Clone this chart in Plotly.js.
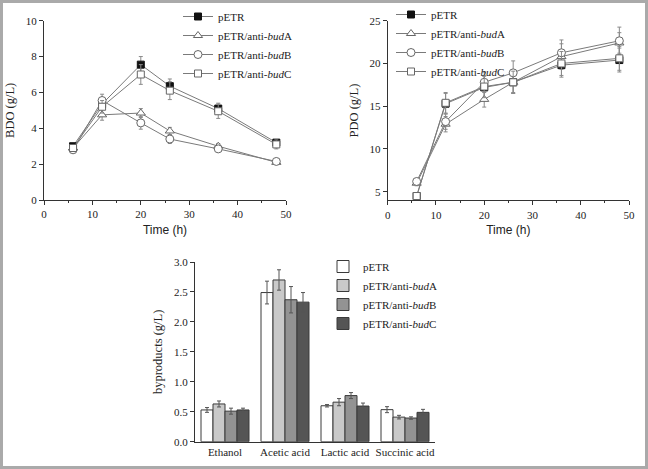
<!DOCTYPE html>
<html>
<head>
<meta charset="utf-8">
<script src="https://cdn.plot.ly/plotly-3.0.1.min.js"></script>
<style>
html,body{margin:0;padding:0;background:#fff;}
#wrap{position:relative;width:648px;height:469px;}
#chart{width:648px;height:469px;}
#frame{position:absolute;left:0;top:0;width:648px;height:469px;box-sizing:border-box;border:3px solid #aaaaaa;pointer-events:none;}
</style>
</head>
<body>
<div id="wrap"><div id="chart"></div><div id="frame"></div></div>
<script>
// ---- data ----
const timeH = [6, 12, 20, 26, 36, 48];
const seriesNames = ['pETR', 'pETR/anti-<i>bud</i>A', 'pETR/anti-<i>bud</i>B', 'pETR/anti-<i>bud</i>C'];

const bdo_pETR = [3.0, 5.35, 7.55, 6.35, 5.1, 3.2];
const bdo_budA = [2.9, 4.75, 4.85, 3.85, 3.0, 2.1];
const bdo_budB = [2.8, 5.55, 4.3, 3.4, 2.85, 2.15];
const bdo_budC = [2.9, 5.2, 7.0, 6.1, 4.95, 3.1];
const bdoErr_pETR = [0.15, 0.3, 0.45, 0.4, 0.3, 0.15];
const bdoErr_budA = [0.1, 0.3, 0.25, 0.2, 0.15, 0.1];
const bdoErr_budB = [0.1, 0.35, 0.35, 0.25, 0.15, 0.1];
const bdoErr_budC = [0.15, 0.35, 0.55, 0.5, 0.4, 0.25];

const pdo_pETR = [4.5, 15.3, 17.2, 17.8, 19.8, 20.4];
const pdo_budA = [6.0, 12.9, 15.8, 17.8, 20.8, 22.4];
const pdo_budB = [6.2, 13.2, 17.8, 18.9, 21.25, 22.65];
const pdo_budC = [4.5, 15.4, 17.3, 17.8, 20.0, 20.6];
const pdoErr_pETR = [0.3, 1.2, 1.3, 1.3, 1.4, 1.4];
const pdoErr_budA = [0.3, 0.9, 0.9, 1.2, 1.5, 1.2];
const pdoErr_budB = [0.3, 0.9, 1.2, 1.4, 1.5, 1.6];
const pdoErr_budC = [0.3, 1.2, 1.3, 1.3, 1.4, 1.4];

const byCategories = ['Ethanol', 'Acetic acid', 'Lactic acid', 'Succinic acid'];
const by_pETR = [0.53, 2.49, 0.60, 0.535];
const by_budA = [0.63, 2.70, 0.66, 0.41];
const by_budB = [0.51, 2.37, 0.77, 0.395];
const by_budC = [0.53, 2.33, 0.595, 0.49];
const byErr_pETR = [0.04, 0.19, 0.02, 0.05];
const byErr_budA = [0.05, 0.17, 0.06, 0.03];
const byErr_budB = [0.05, 0.22, 0.05, 0.02];
const byErr_budC = [0.03, 0.16, 0.05, 0.05];

// ---- styles ----
const SERIF = 'Liberation Serif, Times New Roman, serif';
const SANS = 'Liberation Sans, Arial, sans-serif';
const lineCol = '#7a7a7a';
const errCol = '#8a8a8a';
const markerStyles = [
  {symbol: 'square', color: '#111111', size: 7, line: {color: '#111111', width: 1}},
  {symbol: 'triangle-up', color: '#ffffff', size: 8, line: {color: '#666666', width: 1}},
  {symbol: 'circle', color: '#ffffff', size: 8, line: {color: '#666666', width: 1}},
  {symbol: 'square', color: '#ffffff', size: 7, line: {color: '#666666', width: 1}}
];

function lineTrace(y, err, i, xa, ya, legendId) {
  return {
    type: 'scatter', mode: 'lines+markers',
    x: timeH, y: y, name: seriesNames[i],
    xaxis: xa, yaxis: ya, legend: legendId,
    line: {color: lineCol, width: 1},
    marker: markerStyles[i],
    error_y: {type: 'data', array: err, visible: true, color: errCol, thickness: 1, width: 2}
  };
}

const barColors = ['#ffffff', '#c9c9c9', '#939393', '#555555'];
function barTrace(y, err, i) {
  return {
    type: 'bar', x: byCategories, y: y, name: seriesNames[i],
    xaxis: 'x3', yaxis: 'y3', legend: 'legend3',
    marker: {color: barColors[i], line: {color: '#3a3a3a', width: 1}},
    error_y: {type: 'data', array: err, visible: true, color: '#555555', thickness: 1, width: 2}
  };
}

const data = [
  lineTrace(bdo_pETR, bdoErr_pETR, 0, 'x', 'y', 'legend'),
  lineTrace(bdo_budA, bdoErr_budA, 1, 'x', 'y', 'legend'),
  lineTrace(bdo_budB, bdoErr_budB, 2, 'x', 'y', 'legend'),
  lineTrace(bdo_budC, bdoErr_budC, 3, 'x', 'y', 'legend'),
  lineTrace(pdo_pETR, pdoErr_pETR, 0, 'x2', 'y2', 'legend2'),
  lineTrace(pdo_budA, pdoErr_budA, 1, 'x2', 'y2', 'legend2'),
  lineTrace(pdo_budB, pdoErr_budB, 2, 'x2', 'y2', 'legend2'),
  lineTrace(pdo_budC, pdoErr_budC, 3, 'x2', 'y2', 'legend2'),
  barTrace(by_pETR, byErr_pETR, 0),
  barTrace(by_budA, byErr_budA, 1),
  barTrace(by_budB, byErr_budB, 2),
  barTrace(by_budC, byErr_budC, 3)
];

const tickFont = {family: SERIF, size: 11, color: '#222'};
function baseAxis(extra) {
  return Object.assign({
    showline: true, linecolor: '#333', linewidth: 1,
    ticks: 'outside', ticklen: 4, tickcolor: '#333', tickwidth: 1,
    showgrid: false, zeroline: false, mirror: false,
    tickfont: tickFont, fixedrange: true
  }, extra);
}

const W = 648, H = 469;
const px = v => v / W;
const py = v => 1 - v / H;

const legendFont = {family: SERIF, size: 11, color: '#222'};

const layout = {
  width: W, height: H,
  margin: {l: 0, r: 0, t: 0, b: 0},
  paper_bgcolor: '#ffffff', plot_bgcolor: '#ffffff',
  showlegend: true,
  barmode: 'group', bargap: 0.2, bargroupgap: 0,
  xaxis: baseAxis({domain: [px(44), px(286)], range: [0, 50], dtick: 10, anchor: 'y',
    minor: {ticks: 'outside', dtick: 5, ticklen: 2, tickcolor: '#333'},
    title: {text: 'Time (h)', font: {family: SANS, size: 12, color: '#222'}, standoff: 6}}),
  yaxis: baseAxis({domain: [py(200), py(20.7)], range: [0, 10], dtick: 2, anchor: 'x',
    title: {text: 'BDO (g/L)', font: {family: SERIF, size: 12.5, color: '#222'}, standoff: 8}}),
  xaxis2: baseAxis({domain: [px(387.7), px(629)], range: [0, 50], dtick: 10, anchor: 'y2',
    minor: {ticks: 'outside', dtick: 5, ticklen: 2, tickcolor: '#333'},
    title: {text: 'Time (h)', font: {family: SANS, size: 12, color: '#222'}, standoff: 6}}),
  yaxis2: baseAxis({domain: [py(200.3), py(20.7)], range: [4, 25], tickvals: [5, 10, 15, 20, 25], anchor: 'x2',
    title: {text: 'PDO (g/L)', font: {family: SERIF, size: 12.5, color: '#222'}, standoff: 8}}),
  xaxis3: baseAxis({domain: [px(195), px(435)], anchor: 'y3', ticks: '', type: 'category'}),
  yaxis3: baseAxis({domain: [py(441.7), py(262)], range: [0, 3], dtick: 0.5, tickformat: '.1f', anchor: 'x3',
    title: {text: 'byproducts (g/L)', font: {family: SERIF, size: 12.5, color: '#222'}, standoff: 8}}),
  legend: {x: px(178), y: py(2), xanchor: 'left', yanchor: 'top', bgcolor: 'rgba(0,0,0,0)',
    font: legendFont, tracegroupgap: 0, itemwidth: 30},
  legend2: {x: px(391), y: py(0), xanchor: 'left', yanchor: 'top', bgcolor: 'rgba(0,0,0,0)',
    font: legendFont, tracegroupgap: 0, itemwidth: 30},
  legend3: {x: px(323), y: py(252), xanchor: 'left', yanchor: 'top', bgcolor: 'rgba(0,0,0,0)',
    font: legendFont, tracegroupgap: 0, itemwidth: 30}
};

Plotly.newPlot('chart', data, layout, {displayModeBar: false, staticPlot: true});
</script>
</body>
</html>
